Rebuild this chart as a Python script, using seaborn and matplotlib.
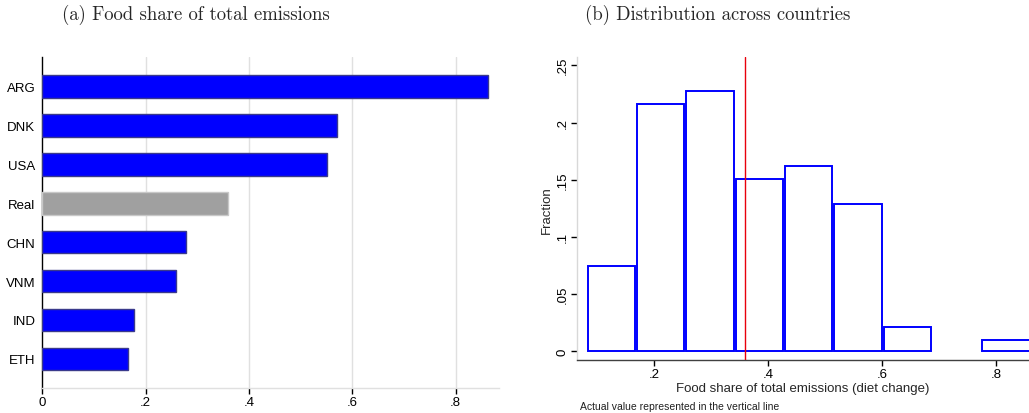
import matplotlib
matplotlib.use("Agg")
import matplotlib.pyplot as plt
import seaborn as sns
import numpy as np
import pandas as pd

# Panel (a): food share of total emissions by diet
countries = ["ARG", "DNK", "USA", "Real", "CHN", "VNM", "IND", "ETH"]
food_share = [0.862, 0.570, 0.551, 0.360, 0.278, 0.258, 0.177, 0.165]
bar_colors = ["#0000FF", "#0000FF", "#0000FF", "#A0A0A0",
              "#0000FF", "#0000FF", "#0000FF", "#0000FF"]
bar_edges = ["#3A3A8C", "#3A3A8C", "#3A3A8C", "#C8C8C8",
             "#3A3A8C", "#3A3A8C", "#3A3A8C", "#3A3A8C"]

# Panel (b): distribution across countries (fraction per bin)
bin_edges = [0.081, 0.168, 0.254, 0.341, 0.428, 0.514, 0.601, 0.688, 0.774, 0.861]
bin_fraction = [0.075, 0.2165, 0.2275, 0.151, 0.162, 0.129, 0.021, 0.0, 0.010]
actual_value = 0.360

a_ticks = [0, 0.2, 0.4, 0.6, 0.8]
a_ticklabels = ["0", ".2", ".4", ".6", ".8"]
b_xticks = [0.2, 0.4, 0.6, 0.8]
b_xticklabels = [".2", ".4", ".6", ".8"]
b_yticks = [0, 0.05, 0.10, 0.15, 0.20, 0.25]
b_yticklabels = ["0", ".05", ".1", ".15", ".2", ".25"]

sns.set_theme(style="white")
plt.rcParams["font.family"] = ["Liberation Sans", "DejaVu Sans"]

W, H = 1029, 414
fig = plt.figure(figsize=(W / 100, H / 100), dpi=100)

# ---------- panel (a) ----------
ax1 = fig.add_axes([42.3 / W, 1 - 389 / H, (499 - 42.3) / W, (389 - 58) / H])
df_a = pd.DataFrame({"country": countries, "share": food_share})
sns.barplot(data=df_a, y="country", x="share", hue="country",
            palette=bar_colors, saturation=1, legend=False, orient="h",
            width=0.58, linewidth=1.0, ax=ax1, zorder=3)
for patch, ec in zip(ax1.patches, bar_edges):
    patch.set_edgecolor(ec)
ax1.set_xlim(0, 0.884)
ax1.set_ylim(len(countries) - 0.25, -0.76)
ax1.set_xticks(a_ticks)
ax1.set_xticklabels(a_ticklabels)
ax1.set_xlabel("")
ax1.set_ylabel("")
for t in a_ticks[1:]:
    ax1.axvline(t, color="#E0E0E0", lw=1.0, zorder=0)
for side in ["top", "right"]:
    ax1.spines[side].set_visible(False)
ax1.spines["left"].set_color("black")
ax1.spines["left"].set_linewidth(1.0)
ax1.spines["bottom"].set_color("#E0E0E0")
ax1.spines["bottom"].set_linewidth(1.0)
ax1.tick_params(axis="x", bottom=True, direction="out", length=4, width=1.0,
                color="black", labelsize=9.5, pad=2, labelcolor="black")
ax1.tick_params(axis="y", left=False, length=0, labelsize=9.5, pad=5,
                labelcolor="black")

# ---------- panel (b) ----------
ax2 = fig.add_axes([577.3 / W, 1 - 361 / H, (W - 577.3) / W, (361 - 58.3) / H])
centers = [(lo + hi) / 2 for lo, hi in zip(bin_edges[:-1], bin_edges[1:])]
sns.histplot(x=centers, weights=bin_fraction, bins=bin_edges, fill=False,
             element="bars", shrink=0.96, color="#0000FF", linewidth=1.4,
             ax=ax2, zorder=3)
# empty bins carry no outline
for patch in list(ax2.patches):
    if patch.get_height() == 0:
        patch.remove()
ax2.axvline(actual_value, color="#E8000B", lw=1.0, zorder=4)
ax2.set_xlim(0.0648, 0.858)
ax2.set_ylim(-0.0076, 0.257)
ax2.set_xticks(b_xticks)
ax2.set_xticklabels(b_xticklabels)
ax2.set_yticks(b_yticks)
ax2.set_yticklabels(b_yticklabels, rotation=90, va="center")
ax2.set_xlabel("Food share of total emissions (diet change)", fontsize=9.5, labelpad=1)
ax2.set_ylabel("Fraction", fontsize=9.5, labelpad=3)
for side in ["top", "right"]:
    ax2.spines[side].set_visible(False)
ax2.spines["left"].set_color("#D8D8D8")
ax2.spines["left"].set_linewidth(1.0)
ax2.spines["bottom"].set_color("#404040")
ax2.spines["bottom"].set_linewidth(1.0)
ax2.tick_params(axis="both", bottom=True, left=True, direction="out", length=4,
                width=1.0, color="black", labelsize=9.5, pad=2, labelcolor="black")
fig.text(580 / W, 1 - 407 / H, "Actual value represented in the vertical line",
         fontsize=7.5, ha="left", va="center", color="#202020")

# ---------- panel titles ----------
fig.text(196 / W, 1 - 15 / H, "(a) Food share of total emissions",
         fontfamily="cmr10", fontsize=13.5, ha="center", va="center")
fig.text(718 / W, 1 - 15 / H, "(b) Distribution across countries",
         fontfamily="cmr10", fontsize=13.5, ha="center", va="center")

fig.savefig("out.png", dpi=100)
